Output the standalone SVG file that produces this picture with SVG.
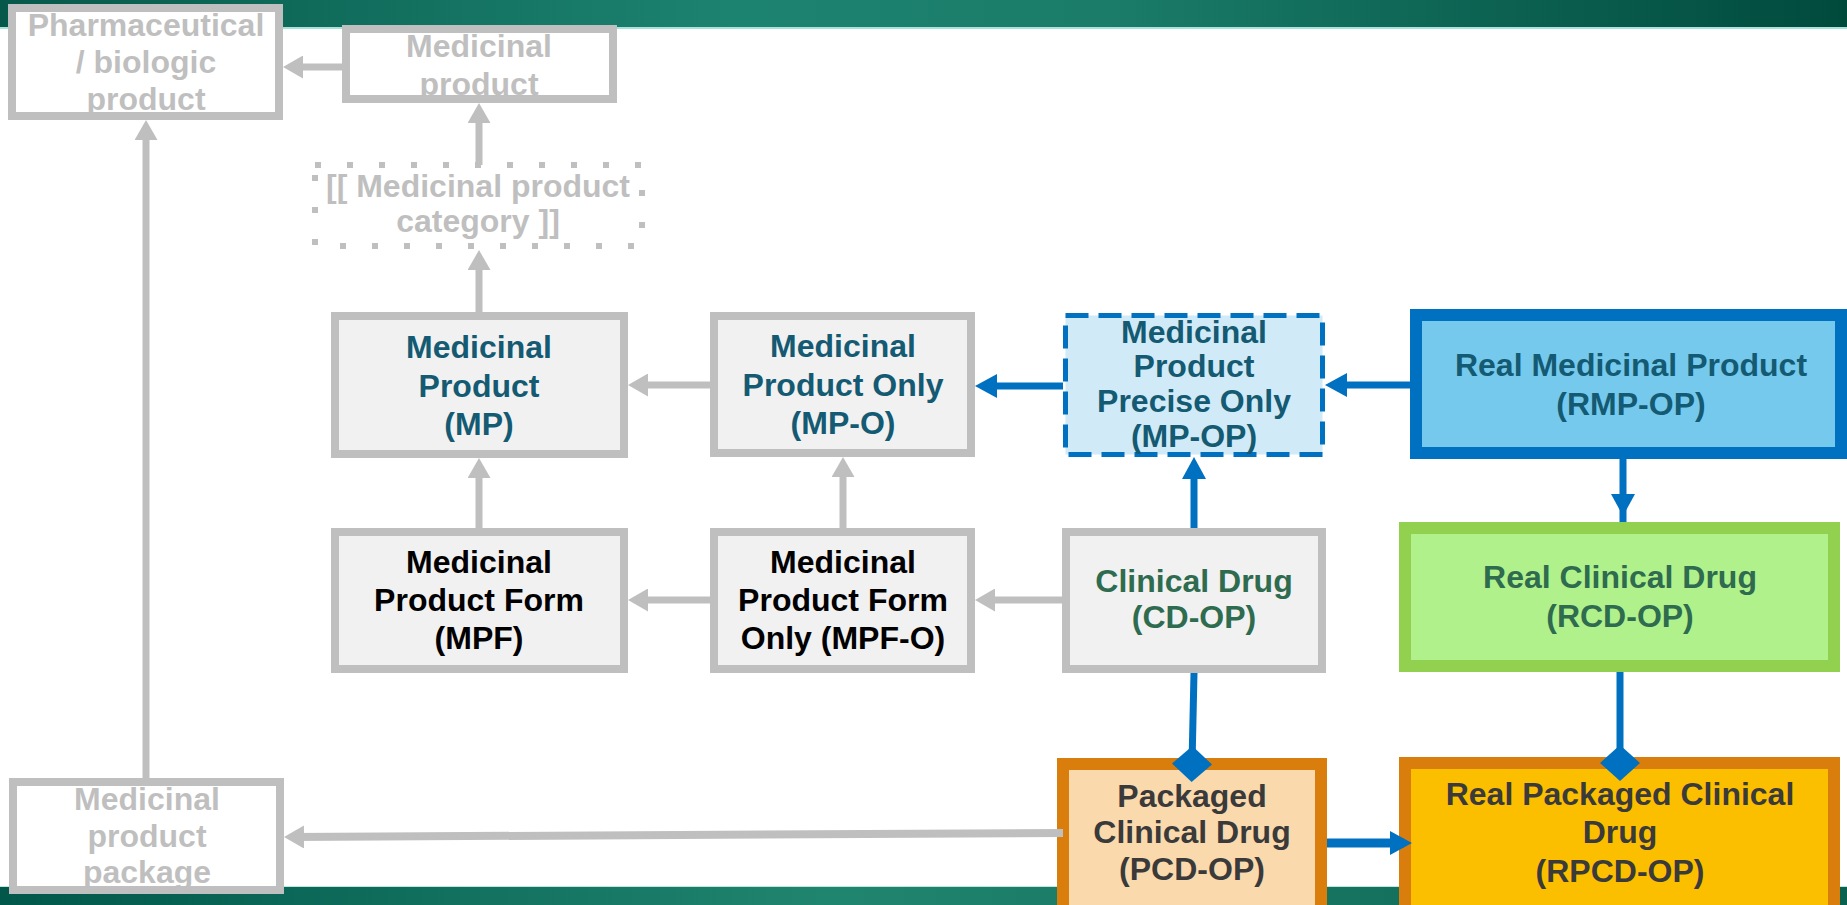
<svg xmlns="http://www.w3.org/2000/svg" width="1847" height="905" viewBox="0 0 1847 905">
<defs>
<linearGradient id="bandTop" x1="0" y1="0" x2="1" y2="0">
<stop offset="0" stop-color="#06594a"/>
<stop offset="0.4" stop-color="#1d8371"/>
<stop offset="0.6" stop-color="#1a7c69"/>
<stop offset="1" stop-color="#004a3c"/>
</linearGradient>
<linearGradient id="bandBot" x1="0" y1="0" x2="1" y2="0">
<stop offset="0" stop-color="#00574a"/>
<stop offset="0.45" stop-color="#20856f"/>
<stop offset="1" stop-color="#0b6150"/>
</linearGradient>
<marker id="ag" markerUnits="userSpaceOnUse" markerWidth="20" markerHeight="23" viewBox="0 0 20 23" refX="12" refY="11.5" orient="auto">
<path d="M0,0 L20,11.5 L0,23 z" fill="#bfbfbf"/>
</marker>
<marker id="ab" markerUnits="userSpaceOnUse" markerWidth="22" markerHeight="24" viewBox="0 0 22 24" refX="14" refY="12" orient="auto">
<path d="M0,0 L22,12 L0,24 z" fill="#0070c0"/>
</marker>
<marker id="db" markerUnits="userSpaceOnUse" markerWidth="36" markerHeight="40" viewBox="-18 -20 36 40" refX="0" refY="0" orient="auto">
<path d="M-18,0 L0,-20 L18,0 L0,20 z" fill="#0070c0"/>
</marker>
</defs>
<style>
text{font-family:"Liberation Sans",Arial,sans-serif;font-weight:bold;font-size:32px;text-anchor:middle}
.ghost rect{fill:#ffffff;stroke:#bfbfbf;stroke-width:8}
.ghost text{fill:#bfbfbf}
.grey rect{fill:#f1f1f1;stroke:#bfbfbf;stroke-width:8}
.teal{fill:#145a72}
.green{fill:#2e6b4f}
.black{fill:#000000}
.dark{fill:#3a3a3a}
.cg{fill:none;stroke:#bfbfbf;stroke-width:7}
.cb{fill:none;stroke:#0070c0;stroke-width:7}
</style>
<rect x="0" y="0" width="1847" height="905" fill="#ffffff"/>
<rect x="0" y="0" width="1847" height="27" fill="url(#bandTop)"/>
<rect x="0" y="27" width="1847" height="2" fill="#a9e2d9"/>
<rect x="0" y="887" width="1847" height="18" fill="url(#bandBot)"/>
<rect x="0" y="886" width="1847" height="1" fill="#bfe6df"/>

<g id="pharm" class="ghost">
<rect x="12" y="8" width="267" height="108"/>
<text x="146" y="36">Pharmaceutical</text>
<text x="146" y="73">/ biologic</text>
<text x="146" y="110">product</text>
</g>
<g id="medprod" class="ghost">
<rect x="346" y="29" width="267" height="70"/>
<text x="479" y="57">Medicinal</text>
<text x="479" y="95">product</text>
</g>
<g id="category">
<rect x="315" y="165" width="327" height="81" fill="#ffffff" stroke="#bfbfbf" stroke-width="6" stroke-dasharray="6 26"/>
<text x="478" y="197" fill="#bfbfbf">[[ Medicinal product</text>
<text x="478" y="232" fill="#bfbfbf">category ]]</text>
</g>
<g id="mp" class="grey">
<rect x="335" y="316" width="289" height="138"/>
<text class="teal" x="479" y="358">Medicinal</text>
<text class="teal" x="479" y="397">Product</text>
<text class="teal" x="479" y="435">(MP)</text>
</g>
<g id="mpo" class="grey">
<rect x="714" y="316" width="257" height="137"/>
<text class="teal" x="843" y="357">Medicinal</text>
<text class="teal" x="843" y="396">Product Only</text>
<text class="teal" x="843" y="434">(MP-O)</text>
</g>
<g id="mpop">
<rect x="1065.5" y="315.5" width="257" height="139" fill="#d0ebf7" stroke="#0070c0" stroke-width="5" stroke-dasharray="23 10"/>
<text class="teal" x="1194" y="343">Medicinal</text>
<text class="teal" x="1194" y="377">Product</text>
<text class="teal" x="1194" y="412">Precise Only</text>
<text class="teal" x="1194" y="447">(MP-OP)</text>
</g>
<g id="rmp">
<rect x="1416" y="315" width="425" height="138" fill="#75c9ed" stroke="#0070c0" stroke-width="12"/>
<text class="teal" x="1631" y="376">Real Medicinal Product</text>
<text class="teal" x="1631" y="415">(RMP-OP)</text>
</g>
<g id="mpf" class="grey">
<rect x="335" y="532" width="289" height="137"/>
<text class="black" x="479" y="573">Medicinal</text>
<text class="black" x="479" y="611">Product Form</text>
<text class="black" x="479" y="649">(MPF)</text>
</g>
<g id="mpfo" class="grey">
<rect x="714" y="532" width="257" height="137"/>
<text class="black" x="843" y="573">Medicinal</text>
<text class="black" x="843" y="611">Product Form</text>
<text class="black" x="843" y="649">Only (MPF-O)</text>
</g>
<g id="cd" class="grey">
<rect x="1066" y="532" width="256" height="137"/>
<text class="green" x="1194" y="592">Clinical Drug</text>
<text class="green" x="1194" y="628">(CD-OP)</text>
</g>
<g id="rcd">
<rect x="1405" y="528" width="429" height="138" fill="#b0f18c" stroke="#92d050" stroke-width="12"/>
<text class="green" x="1620" y="588">Real Clinical Drug</text>
<text class="green" x="1620" y="627">(RCD-OP)</text>
</g>
<g id="pkg" class="ghost">
<rect x="13" y="782" width="267" height="108"/>
<text x="147" y="810">Medicinal</text>
<text x="147" y="847">product</text>
<text x="147" y="883">package</text>
</g>
<g id="pcd">
<rect x="1063" y="764" width="258" height="160" fill="#fad9ad" stroke="#d97d0c" stroke-width="12"/>
<text class="dark" x="1192" y="807">Packaged</text>
<text class="dark" x="1192" y="843">Clinical Drug</text>
<text class="dark" x="1192" y="880">(PCD-OP)</text>
</g>
<g id="rpcd">
<rect x="1405" y="763" width="429" height="160" fill="#fcbf00" stroke="#d97d0c" stroke-width="12"/>
<text class="dark" x="1620" y="805">Real Packaged Clinical</text>
<text class="dark" x="1620" y="843">Drug</text>
<text class="dark" x="1620" y="882">(RPCD-OP)</text>
</g>

<g id="connectors">
<path class="cg" d="M342,67 L291,67" marker-end="url(#ag)"/>
<path class="cg" d="M146,778 L146,128" marker-end="url(#ag)"/>
<path class="cg" d="M479,165 L479,111" marker-end="url(#ag)"/>
<path class="cg" d="M479,312 L479,258" marker-end="url(#ag)"/>
<path class="cg" d="M710,385 L636,385" marker-end="url(#ag)"/>
<path class="cg" d="M479,528 L479,466" marker-end="url(#ag)"/>
<path class="cg" d="M843,528 L843,465" marker-end="url(#ag)"/>
<path class="cg" d="M710,600 L636,600" marker-end="url(#ag)"/>
<path class="cg" d="M1062,600 L983,600" marker-end="url(#ag)"/>
<path class="cg" style="stroke-width:8" d="M1063,833 L292,837" marker-end="url(#ag)"/>
<path class="cb" d="M1063,386 L983,386" marker-end="url(#ab)"/>
<path class="cb" d="M1410,385 L1333,385" marker-end="url(#ab)"/>
<path class="cb" d="M1194,528 L1194,465" marker-end="url(#ab)"/>
<path class="cb" d="M1623,508 L1623,522 M1623,459 L1623,508" marker-end="url(#ab)"/>
<path class="cb" d="M1194,673 L1192,764" marker-end="url(#db)"/>
<path class="cb" d="M1620,672 L1620,763" marker-end="url(#db)"/>
<path class="cb" style="stroke-width:9" d="M1327,843 L1404,843" marker-end="url(#ab)"/>
</g>
</svg>
